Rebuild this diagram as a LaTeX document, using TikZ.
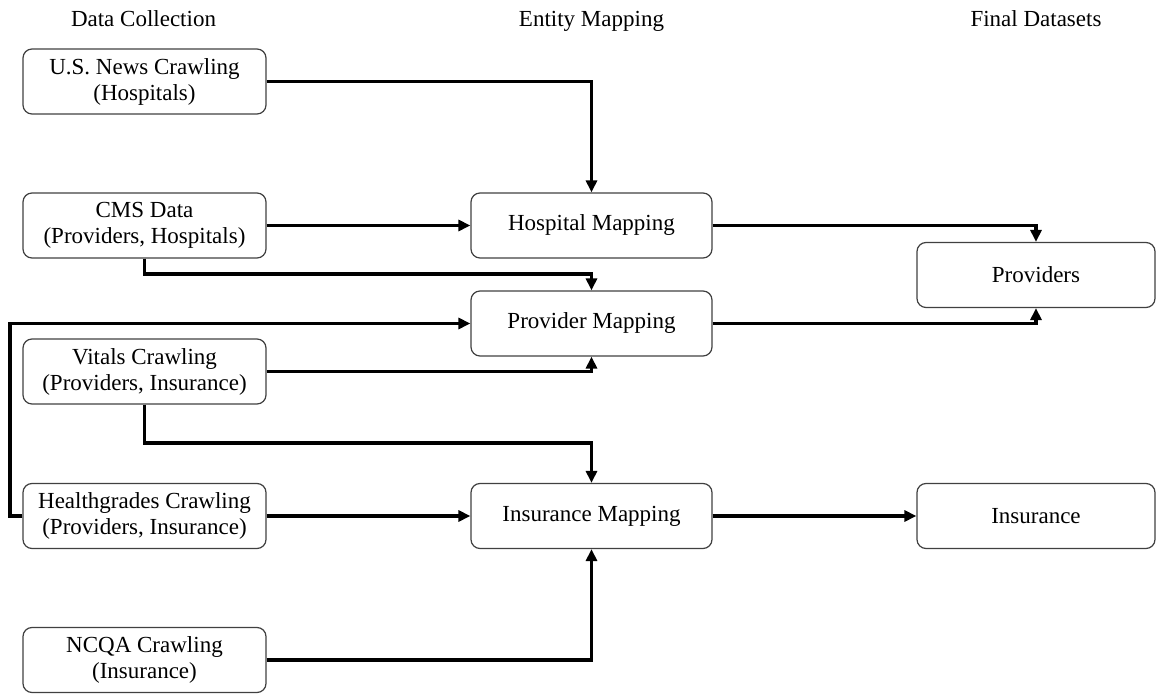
\documentclass[tikz,border=0pt]{standalone}
\usepackage{fontspec}
\setmainfont{Liberation Serif}
\usetikzlibrary{arrows.meta,calc}
\begin{document}
\begin{tikzpicture}[x=0.5pt,y=-0.5pt,
  box/.style={draw=black!75, line width=0.6pt, rounded corners=4.5pt,
    align=center, inner sep=0pt, font=\fontsize{11.5}{13}\selectfont},
  srcbox/.style={box, minimum width=121.5pt, minimum height=32.5pt},
  mapbox/.style={box, minimum width=120.5pt, minimum height=32.5pt},
  outbox/.style={box, minimum width=119pt, minimum height=32.5pt},
  title/.style={font=\fontsize{11.5}{13}\selectfont, inner sep=0pt, anchor=base},
  conn/.style={line width=1.6pt, -{Triangle[length=6pt,width=5.5pt]}}
]
\useasboundingbox (0,0) rectangle (1158,694);
% titles
\node[title] (t1) at (143.5,27) {Data Collection};
\node[title] (t2) at (591.5,27) {Entity Mapping};
\node[title] (t3) at (1036,27) {Final Datasets};
% source boxes
\node[srcbox] (usn) at (144.5,81.5) {U.S. News Crawling\\(Hospitals)};
\node[srcbox] (cms) at (144.5,225.5) {CMS Data\\(Providers, Hospitals)};
\node[srcbox] (vit) at (144.5,371.5) {Vitals Crawling\\(Providers, Insurance)};
\node[srcbox] (hg) at (144.5,516) {Healthgrades Crawling\\(Providers, Insurance)};
\node[srcbox] (ncqa) at (144.5,660) {NCQA Crawling\\(Insurance)};
% mapping boxes
\node[mapbox] (hm) at (591.5,225.5) {Hospital Mapping};
\node[mapbox] (pm) at (591.5,323.5) {Provider Mapping};
\node[mapbox] (im) at (591.5,516) {Insurance Mapping};
% final boxes
\node[outbox] (pf) at (1036,275) {Providers};
\node[outbox] (inf) at (1036,516) {Insurance};
% helper coordinates
\coordinate (lx) at (10,0);
\coordinate (cmsy) at (0,274);
\coordinate (vity) at (0,443);
% connectors
\draw[conn] (usn.east) -| (hm.north);
\draw[conn] (cms.east) -- (hm.west);
\draw[conn] (cms.south) -- (cms.south |- cmsy) -| (pm.north);
\draw[conn] (hg.west) -- (hg.west -| lx) |- (pm.west);
\draw[conn] (vit.east) -| (pm.south);
\draw[conn] (vit.south) -- (vit.south |- vity) -| (im.north);
\draw[conn] (hg.east) -- (im.west);
\draw[conn] (ncqa.east) -| (im.south);
\draw[conn] (hm.east) -| (pf.north);
\draw[conn] (pm.east) -| (pf.south);
\draw[conn] (im.east) -- (inf.west);
\end{tikzpicture}
\end{document}
